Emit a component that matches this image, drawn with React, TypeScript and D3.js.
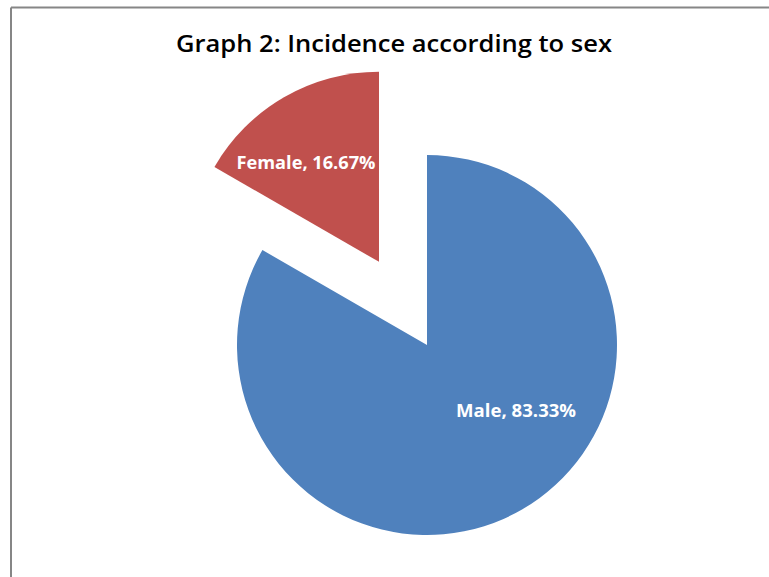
import React from "react";
import * as d3 from "d3";

const categories = ["Male", "Female"];
const values = [83.33, 16.67];
const colors = ["#4F81BD", "#C0504D"];
const title = "Graph 2: Incidence according to sex";

const W = 769;
const H = 577;

export default function App() {
  const cx = 427;
  const cy = 345;
  const r = 190;
  const explode = 96;

  const pie = d3.pie<number>().sort(null).value((d) => d);
  const arcs = pie(values);
  const arcGen = d3.arc<d3.PieArcDatum<number>>().innerRadius(0).outerRadius(r);

  const labelPlacement = [
    { angle: (126.6 * Math.PI) / 180, dist: 111, len: 120 },
    { angle: (323.6 * Math.PI) / 180, dist: 123, len: 139 },
  ];

  return (
    <svg
      width={W}
      height={H}
      style={{ position: "absolute", left: 0, top: 0, display: "block", background: "#fff" }}
    >
      <rect x={0} y={0} width={W} height={H} fill="#fff" />
      <line x1={11} y1={7.5} x2={W} y2={7.5} stroke="#868686" strokeWidth={2} />
      <line x1={11} y1={7.5} x2={11} y2={H} stroke="#868686" strokeWidth={2} />
      <text
        x={394}
        y={52}
        textAnchor="middle"
        fontFamily="'Open Sans', Lato, sans-serif"
        fontWeight="600"
        fontSize={22.5}
        textLength={436}
        lengthAdjust="spacingAndGlyphs"
        fill="#000"
      >
        {title}
      </text>
      {arcs.map((a, i) => {
        const mid = (a.startAngle + a.endAngle) / 2;
        const off = i === 1 ? explode : 0;
        const ox = cx + Math.sin(mid) * off;
        const oy = cy - Math.cos(mid) * off;
        const lp = labelPlacement[i];
        const lx = ox + Math.sin(lp.angle) * lp.dist;
        const ly = oy - Math.cos(lp.angle) * lp.dist;
        return (
          <g key={categories[i]} transform={`translate(${ox},${oy})`}>
            <path d={arcGen(a) || ""} fill={colors[i]} />
            <text
              x={lx - ox}
              y={ly - oy}
              dy="0.35em"
              textAnchor="middle"
              fontFamily="'Open Sans', Lato, sans-serif"
              fontWeight="bold"
              fontSize={17}
              textLength={lp.len}
              lengthAdjust="spacingAndGlyphs"
              fill="#fff"
            >
              {`${categories[i]}, ${values[i].toFixed(2)}%`}
            </text>
          </g>
        );
      })}
    </svg>
  );
}
